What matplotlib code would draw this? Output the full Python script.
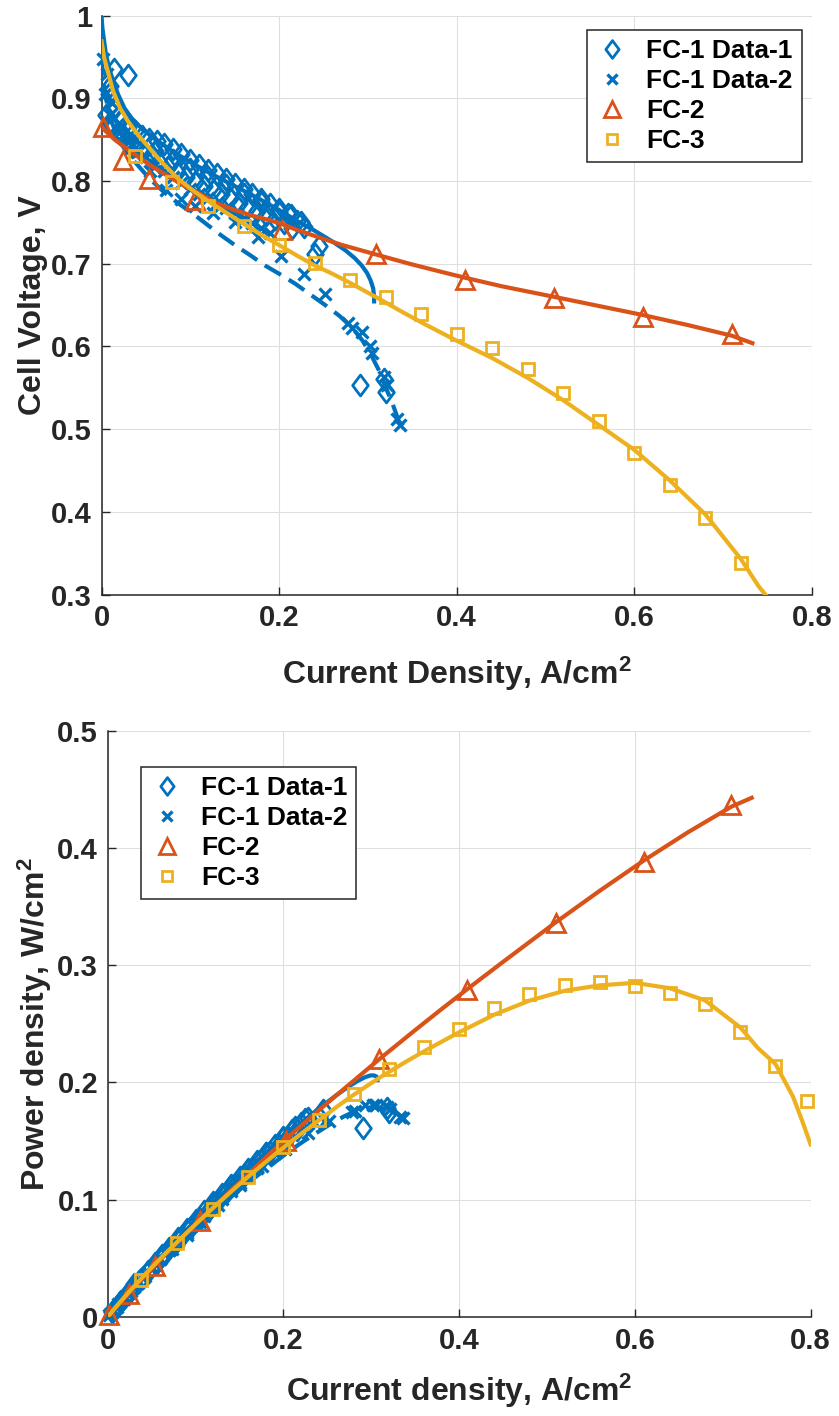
import numpy as np
import matplotlib
matplotlib.use("Agg")
import matplotlib.pyplot as plt
from matplotlib.path import Path

# ---------------- data ----------------
# FC-1 Data-1 (diamonds): current density (A/cm2), cell voltage (V)
fc1_d1_i = [0.010, 0.014, 0.030,
            0.008, 0.015, 0.022, 0.030, 0.038, 0.046, 0.054, 0.062, 0.070, 0.080, 0.090, 0.100,
            0.110, 0.120, 0.130, 0.140, 0.150, 0.160, 0.170, 0.180, 0.190, 0.200, 0.210, 0.220, 0.228,
            0.005, 0.012, 0.020, 0.028, 0.036, 0.045, 0.055, 0.065, 0.075, 0.085, 0.095, 0.105,
            0.115, 0.125, 0.135, 0.145, 0.155, 0.165, 0.175, 0.185, 0.195, 0.205, 0.215,
            0.010, 0.025, 0.040, 0.060, 0.080, 0.100, 0.120, 0.140, 0.160, 0.180, 0.200, 0.213, 0.225,
            0.240, 0.245, 0.291, 0.318, 0.320]
fc1_d1_v = [0.915, 0.935, 0.928,
            0.905, 0.888, 0.875, 0.866, 0.860, 0.855, 0.851, 0.848, 0.845, 0.839, 0.833, 0.826,
            0.820, 0.814, 0.808, 0.802, 0.796, 0.790, 0.784, 0.778, 0.772, 0.766, 0.760, 0.752, 0.745,
            0.880, 0.868, 0.858, 0.850, 0.843, 0.836, 0.829, 0.823, 0.817, 0.811, 0.805, 0.799,
            0.794, 0.789, 0.784, 0.779, 0.774, 0.769, 0.764, 0.759, 0.754, 0.749, 0.743,
            0.872, 0.855, 0.846, 0.836, 0.826, 0.815, 0.805, 0.795, 0.785, 0.775, 0.763, 0.759, 0.751,
            0.712, 0.722, 0.554, 0.561, 0.545]

# FC-1 Data-2 (x marks)
fc1_d2_i = [0.004, 0.010, 0.018, 0.026, 0.034, 0.042, 0.050, 0.060, 0.070, 0.080, 0.090, 0.100,
            0.110, 0.120, 0.130, 0.140, 0.150, 0.160, 0.170, 0.180, 0.190,
            0.002, 0.006, 0.012, 0.020, 0.030, 0.040, 0.055, 0.073, 0.090, 0.105, 0.125, 0.150,
            0.176, 0.202, 0.228, 0.252, 0.278, 0.282, 0.293, 0.302, 0.305, 0.318, 0.321, 0.333, 0.336]
fc1_d2_v = [0.905, 0.880, 0.862, 0.851, 0.843, 0.836, 0.829, 0.820, 0.812, 0.805, 0.798, 0.791,
            0.785, 0.779, 0.773, 0.767, 0.761, 0.755, 0.749, 0.743, 0.737,
            0.948, 0.930, 0.895, 0.870, 0.850, 0.835, 0.812, 0.789, 0.778, 0.770, 0.762, 0.750,
            0.733, 0.710, 0.688, 0.664, 0.628, 0.622, 0.618, 0.600, 0.592, 0.563, 0.553, 0.512, 0.505]

# FC-1 fit curves
fc1_fit1_i = [0.0, 0.001, 0.003, 0.005, 0.0085, 0.013, 0.019, 0.026, 0.034, 0.045, 0.06, 0.08, 0.1,
              0.125, 0.15, 0.175, 0.2, 0.22, 0.24, 0.26, 0.275, 0.285, 0.293, 0.299, 0.303, 0.306,
              0.307, 0.307]
fc1_fit1_v = [1.0, 0.985, 0.969, 0.953, 0.937, 0.921, 0.904, 0.888, 0.876, 0.864, 0.851, 0.836, 0.823,
              0.808, 0.794, 0.780, 0.765, 0.752, 0.740, 0.727, 0.716, 0.707, 0.698, 0.689, 0.680, 0.670,
              0.660, 0.652]
fc1_fit2_i = [0.0, 0.002, 0.005, 0.01, 0.02, 0.03, 0.041, 0.054, 0.07, 0.0865, 0.1, 0.117, 0.134,
              0.151, 0.168, 0.184, 0.2, 0.218, 0.235, 0.252, 0.268, 0.282, 0.294, 0.304, 0.312, 0.319,
              0.327, 0.334, 0.337]
fc1_fit2_v = [0.95, 0.925, 0.90, 0.875, 0.849, 0.832, 0.819, 0.803, 0.787, 0.773, 0.763, 0.749, 0.735,
              0.722, 0.710, 0.698, 0.688, 0.676, 0.663, 0.650, 0.637, 0.623, 0.607, 0.589, 0.572, 0.553,
              0.533, 0.512, 0.502]

# FC-2
fc2_i = [0.002, 0.024, 0.054, 0.105, 0.203, 0.309, 0.409, 0.510, 0.610, 0.710]
fc2_v = [0.866, 0.826, 0.803, 0.777, 0.741, 0.712, 0.681, 0.659, 0.636, 0.615]
fc2_fit_i = [0.0, 0.005, 0.015, 0.03, 0.055, 0.075, 0.092, 0.11, 0.13, 0.15, 0.167, 0.185, 0.201, 0.22,
             0.242, 0.27, 0.31, 0.347, 0.38, 0.41, 0.45, 0.51, 0.56, 0.61, 0.66, 0.71, 0.733]
fc2_fit_v = [0.866, 0.860, 0.850, 0.838, 0.819, 0.806, 0.795, 0.785, 0.773, 0.765, 0.759, 0.754, 0.749,
             0.741, 0.733, 0.723, 0.711, 0.700, 0.691, 0.683, 0.673, 0.660, 0.649, 0.638, 0.626, 0.613,
             0.604]

# FC-3
fc3_i = [0.038, 0.079, 0.12, 0.16, 0.20, 0.24, 0.28, 0.32, 0.36, 0.40, 0.44, 0.48, 0.52, 0.56,
         0.60, 0.64, 0.68, 0.72, 0.76, 0.796]
fc3_v = [0.830, 0.799, 0.770, 0.746, 0.723, 0.701, 0.680, 0.660, 0.639, 0.615, 0.598, 0.573, 0.544,
         0.510, 0.471, 0.432, 0.393, 0.338, 0.282, 0.231]
fc3_fit_i = [0.0, 0.003, 0.008, 0.013, 0.021, 0.03, 0.041, 0.05, 0.065, 0.086, 0.105, 0.124, 0.143,
             0.162, 0.18, 0.201, 0.22, 0.24, 0.26, 0.278, 0.295, 0.312, 0.34, 0.364, 0.4, 0.44, 0.48,
             0.52, 0.56, 0.6, 0.64, 0.68, 0.72, 0.74, 0.76, 0.78, 0.79, 0.8]
fc3_fit_v = [0.969, 0.949, 0.929, 0.909, 0.888, 0.872, 0.856, 0.845, 0.826, 0.803, 0.787, 0.773, 0.760,
             0.747, 0.735, 0.722, 0.710, 0.698, 0.688, 0.678, 0.668, 0.658, 0.641, 0.627, 0.607, 0.586,
             0.562, 0.535, 0.505, 0.475, 0.438, 0.397, 0.343, 0.31, 0.284, 0.241, 0.213, 0.184]

legend_labels = ["FC-1 Data-1", "FC-1 Data-2", "FC-2", "FC-3"]
x_ticks = [0, 0.2, 0.4, 0.6, 0.8]
x_ticklabels = ["0", "0.2", "0.4", "0.6", "0.8"]
v_ticks = [0.3, 0.4, 0.5, 0.6, 0.7, 0.8, 0.9, 1.0]
v_ticklabels = ["0.3", "0.4", "0.5", "0.6", "0.7", "0.8", "0.9", "1"]
p_ticks = [0, 0.1, 0.2, 0.3, 0.4, 0.5]
p_ticklabels = ["0", "0.1", "0.2", "0.3", "0.4", "0.5"]

# ---------------- style ----------------
plt.rcParams['font.family'] = ['Liberation Sans', 'DejaVu Sans']
plt.rcParams['font.weight'] = 'bold'
plt.rcParams['mathtext.fontset'] = 'custom'
plt.rcParams['mathtext.rm'] = 'Liberation Sans:bold'
plt.rcParams['mathtext.bf'] = 'Liberation Sans:bold'
plt.rcParams['mathtext.default'] = 'bf'

BLUE = '#0072BD'
ORANGE = '#D95319'
YELLOW = '#EDB120'
DARK = '#262626'
GRIDC = '#dfdfdf'

DIAMOND = Path([(0, 1), (0.75, 0), (0, -1), (-0.75, 0), (0, 1)],
               [Path.MOVETO, Path.LINETO, Path.LINETO, Path.LINETO, Path.CLOSEPOLY])

LW = 3.0
DASH = (0, (4.5, 2.2))

fig = plt.figure(figsize=(8.39, 14.16), dpi=100)
ax1 = fig.add_axes([0.1210, 0.5801, 0.8467, 0.4088])
ax2 = fig.add_axes([0.1284, 0.0699, 0.8377, 0.4141])


def style_axes(ax, ylim, yticks, yticklabels):
    ax.set_xlim(0, 0.8)
    ax.set_ylim(*ylim)
    ax.set_xticks(x_ticks)
    ax.set_xticklabels(x_ticklabels)
    ax.set_yticks(yticks)
    ax.set_yticklabels(yticklabels)
    for s in ['top', 'right']:
        ax.spines[s].set_visible(False)
    for s in ['left', 'bottom']:
        ax.spines[s].set_color(DARK)
        ax.spines[s].set_linewidth(1.1)
    ax.tick_params(direction='in', length=6, width=1.0, color=DARK, labelcolor=DARK,
                   labelsize=21, pad=7)
    for lab in ax.get_xticklabels() + ax.get_yticklabels():
        lab.set_fontweight('bold')
    ax.grid(True, color=GRIDC, linewidth=0.8)
    ax.set_axisbelow(True)


def draw(ax, power, ymin):
    def tr(i, v):
        i = np.asarray(i, float)
        v = np.asarray(v, float)
        y = i * v if power else v
        return i, y

    def pts(i, v):
        x, y = tr(i, v)
        m = y >= ymin - 1e-9
        return x[m], y[m]

    x, y = pts(fc1_d1_i, fc1_d1_v)
    h1, = ax.plot(x, y, linestyle='none', marker=DIAMOND, ms=15, mfc='none', mec=BLUE, mew=2.0,
                  clip_on=False, zorder=3)
    x, y = tr(fc1_fit1_i, fc1_fit1_v)
    ax.plot(x, y, color=BLUE, lw=LW, zorder=4, solid_capstyle='butt')
    x, y = pts(fc1_d2_i, fc1_d2_v)
    h2, = ax.plot(x, y, linestyle='none', marker='x', ms=8, mec=BLUE, mew=2.4,
                  clip_on=False, zorder=3)
    x, y = tr(fc1_fit2_i, fc1_fit2_v)
    ax.plot(x, y, color=BLUE, lw=LW, ls=DASH, zorder=4)
    x, y = pts(fc2_i, fc2_v)
    h3, = ax.plot(x, y, linestyle='none', marker='^', ms=13, mfc='none', mec=ORANGE, mew=2.0,
                  clip_on=False, zorder=5)
    x, y = tr(fc2_fit_i, fc2_fit_v)
    ax.plot(x, y, color=ORANGE, lw=LW, zorder=5)
    x, y = pts(fc3_i, fc3_v)
    h4, = ax.plot(x, y, linestyle='none', marker='s', ms=8.5, mfc='none', mec=YELLOW, mew=2.0,
                  clip_on=False, zorder=6)
    x, y = tr(fc3_fit_i, fc3_fit_v)
    ax.plot(x, y, color=YELLOW, lw=LW, zorder=6)
    return [h1, h2, h3, h4]


hs1 = draw(ax1, False, 0.3)
style_axes(ax1, (0.3, 1.0), v_ticks, v_ticklabels)
ax1.set_xlabel(r'Current Density, A/cm$^{2}$', fontsize=23, fontweight='bold', color=DARK, labelpad=16)
ax1.set_ylabel('Cell Voltage, V', fontsize=23, fontweight='bold', color=DARK, labelpad=2)

hs2 = draw(ax2, True, 0.0)
style_axes(ax2, (0.0, 0.5), p_ticks, p_ticklabels)
ax2.set_xlabel(r'Current density, A/cm$^{2}$', fontsize=23, fontweight='bold', color=DARK, labelpad=12)
ax2.set_ylabel(r'Power density, W/cm$^{2}$', fontsize=23, fontweight='bold', color=DARK, labelpad=2)

leg_kw = dict(fontsize=19, frameon=True, fancybox=False, framealpha=1.0, edgecolor=DARK,
              borderaxespad=0.0, handlelength=1.2, handletextpad=0.7, labelspacing=0.22,
              borderpad=0.35, markerscale=0.85)
l1 = ax1.legend(hs1, legend_labels, loc='upper right', bbox_to_anchor=(0.986, 0.975), **leg_kw)
l2 = ax2.legend(hs2, legend_labels, loc='upper left', bbox_to_anchor=(0.048, 0.9376), **leg_kw)
for leg in (l1, l2):
    leg.get_frame().set_linewidth(1.1)
    leg.set_zorder(10)
    for t in leg.get_texts():
        t.set_fontweight('bold')

fig.savefig('out.png', dpi=100)
